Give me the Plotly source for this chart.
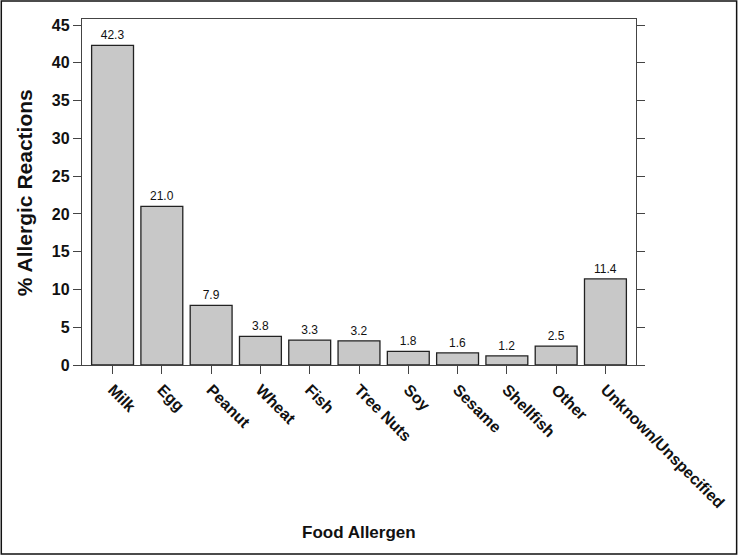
import plotly.graph_objects as go

categories = ["Milk", "Egg", "Peanut", "Wheat", "Fish", "Tree Nuts", "Soy",
              "Sesame", "Shellfish", "Other", "Unknown/Unspecified"]
values = [42.3, 21.0, 7.9, 3.8, 3.3, 3.2, 1.8, 1.6, 1.2, 2.5, 11.4]
value_labels = ["42.3", "21.0", "7.9", "3.8", "3.3", "3.2", "1.8", "1.6", "1.2", "2.5", "11.4"]
y_ticks = [0, 5, 10, 15, 20, 25, 30, 35, 40, 45]

W, H = 740, 555
L, R, T, B = 82, 102, 19, 190
pw, ph = W - L - R, H - T - B

fig = go.Figure()
fig.add_trace(go.Bar(
    x=list(range(len(categories))), y=values,
    text=value_labels, textposition="outside", cliponaxis=False,
    textfont=dict(family="Liberation Sans, Arial", size=12, color="#111"),
    marker=dict(color="#c8c8c8", line=dict(color="#222", width=1.3)),
    width=0.85,
))

axis_line = "#444"
fig.update_layout(
    width=W, height=H,
    margin=dict(l=L, r=R, t=T, b=B),
    paper_bgcolor="white", plot_bgcolor="white",
    showlegend=False,
    font=dict(family="Liberation Sans, Arial", color="#111"),
    xaxis=dict(
        range=[-0.62, 10.62],
        tickmode="array", tickvals=list(range(len(categories))), ticktext=categories,
        tickangle=45, ticks="outside", ticklen=8, tickcolor=axis_line, tickwidth=1.3,
        tickfont=dict(size=16, family="Liberation Sans, Arial", weight="bold", color="#111"),
        showline=True, linecolor=axis_line, linewidth=1.3, mirror=True,
        showgrid=False, zeroline=False,
    ),
    yaxis=dict(
        range=[0, 45.8],
        tickmode="array", tickvals=y_ticks,
        ticks="outside", ticklen=8, tickcolor=axis_line, tickwidth=1.3,
        tickfont=dict(size=16, family="Liberation Sans, Arial", weight="bold", color="#111"),
        showline=True, linecolor=axis_line, linewidth=1.3, mirror="ticks",
        showgrid=False, zeroline=False,
    ),
    annotations=[
        dict(text="<b>% Allergic Reactions</b>", xref="paper", yref="paper",
             x=(24 - L) / pw, y=(T + ph - 193) / ph, xanchor="center", yanchor="middle",
             textangle=-90, showarrow=False,
             font=dict(size=21, family="Liberation Sans, Arial", color="#111")),
        dict(text="<b>Food Allergen</b>", xref="paper", yref="paper",
             x=0.5, y=(T + ph - 532) / ph, xanchor="center", yanchor="middle",
             showarrow=False,
             font=dict(size=17, family="Liberation Sans, Arial", color="#111")),
    ],
    shapes=[
        dict(type="rect", xref="paper", yref="paper",
             x0=(1 - L) / pw, x1=(W - 1 - L) / pw,
             y0=-(B - 1) / ph, y1=1 + (T - 1) / ph,
             line=dict(color="#111", width=1.5), fillcolor="rgba(0,0,0,0)"),
    ],
)

fig.write_html("out.html", config={"displayModeBar": False},
               post_script="document.body.style.margin='0';document.body.style.padding='0';")
